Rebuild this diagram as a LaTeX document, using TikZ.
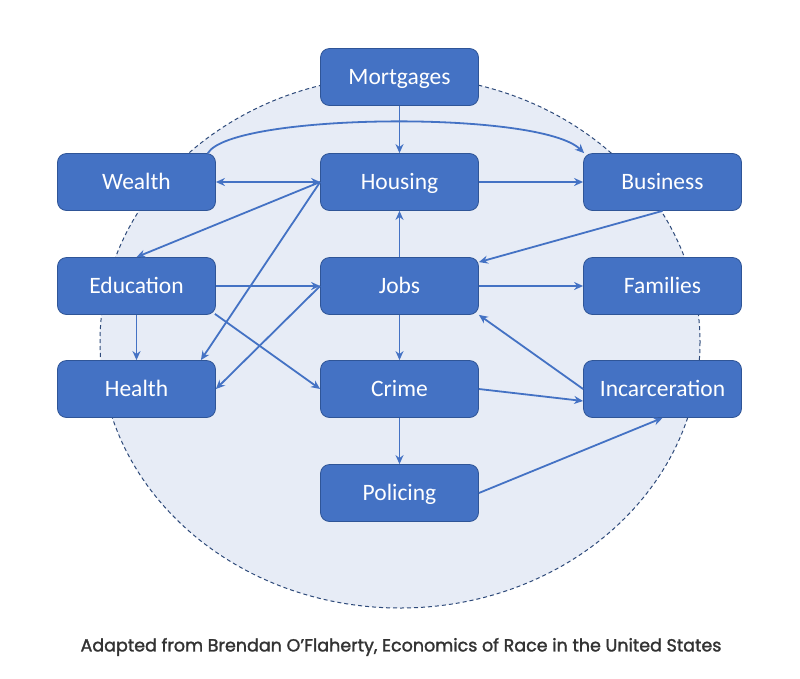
\documentclass[tikz,border=0pt]{standalone}
\usepackage{fontspec}
\setmainfont{Carlito}
\newfontfamily\capfont{Poppins}[FakeBold=1.6]
\usetikzlibrary{arrows.meta,calc}
\definecolor{boxfill}{HTML}{4472C4}
\definecolor{boxedge}{HTML}{2F5597}
\definecolor{ellfill}{HTML}{E7ECF6}
\definecolor{elledge}{HTML}{2E4A7A}
\definecolor{captext}{HTML}{333333}
\tikzset{
  box/.style={draw=boxedge, line width=0.8pt, fill=boxfill, rounded corners=9pt,
    minimum width=158pt, minimum height=57pt, inner sep=0pt, text=white,
    text height=15pt, text depth=0pt,
    font=\fontsize{23.5}{28}\selectfont},
  conn/.style={draw=boxfill, line width=1.8pt, -{Stealth[length=9pt,width=8pt]}},
  dconn/.style={draw=boxfill, line width=1.8pt, {Stealth[length=9pt,width=8pt]}-{Stealth[length=9pt,width=8pt]}}
}
\begin{document}
\begin{tikzpicture}[x=1pt,y=-1pt]
\useasboundingbox (0,0) rectangle (800,678);
\fill[white] (0,0) rectangle (800,678);
\draw[fill=ellfill, draw=elledge, line width=1pt, dash pattern=on 4pt off 3pt] (400,342) ellipse [x radius=300, y radius=266];
\node[box] (mor) at (399.5,77) {Mortgages};
\node[box] (hou) at (399.5,182) {Housing};
\node[box] (wea) at (136.5,182) {Wealth};
\node[box] (bus) at (662.5,182) {Business};
\node[box] (edu) at (136.5,286) {Education};
\node[box] (job) at (399.5,286) {Jobs};
\node[box] (fam) at (662.5,286) {Families};
\node[box] (hea) at (136.5,389) {Health};
\node[box] (cri) at (399.5,389) {Crime};
\node[box] (inc) at (662.5,389) {Incarceration};
\node[box] (pol) at (399.5,493) {Policing};
\node[font=\capfont\fontsize{17.5}{20}\selectfont, text=captext] (cap) at (401,647) {Adapted from Brendan O’Flaherty, Economics of Race in the United States};
\draw[conn] (mor) -- (hou);
\draw[conn] (job) -- (hou);
\draw[conn] (job) -- (cri);
\draw[conn] (cri) -- (pol);
\draw[conn] (edu) -- (hea);
\draw[dconn] (wea.east) -- (hou.west);
\draw[conn] (hou.east) -- (bus.west);
\draw[conn] (hou.west) -- (edu.north);
\draw[conn] (hou.west) -- ([xshift=-15pt]hea.north east);
\draw[conn] (edu.east) -- (job.west);
\draw[conn] ([xshift=-1pt,yshift=1pt]edu.south east) -- (cri.west);
\draw[conn] (job.west) -- (hea.east);
\draw[conn] (bus.south) -- ([yshift=-5pt]job.north east);
\draw[conn] (job.east) -- (fam.west);
\draw[conn] (inc.west) -- (job.south east);
\draw[conn] (cri.east) -- ([yshift=-12pt]inc.west);
\draw[conn] (pol.east) -- (inc.south);
\draw[conn] ([xshift=-8pt]wea.north east) .. controls (232,113) and (540,110) .. ([xshift=1pt]bus.north west);
\end{tikzpicture}
\end{document}
